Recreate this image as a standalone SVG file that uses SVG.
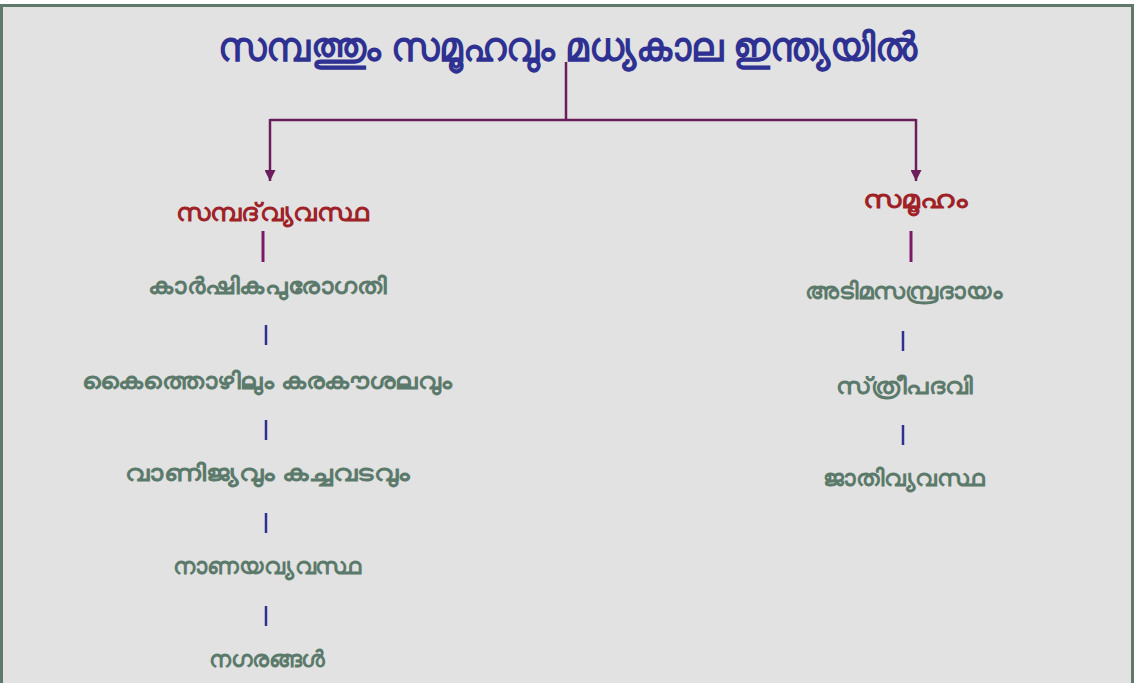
<svg xmlns="http://www.w3.org/2000/svg" width="1134" height="683" viewBox="0 0 1134 683">
<style>
text{font-family:"Noto Sans","DejaVu Sans",sans-serif;font-weight:bold;text-anchor:middle}
.title{fill:#2e3192;font-size:40px}
.head{fill:#9e2227;font-size:25px}
.item{fill:#5c7a6b;font-size:23px}
.conn{stroke:#6b1d5c;stroke-width:2.5;fill:none}
.bar{stroke:#2e3192;stroke-width:2.5}
.pbar{stroke:#7a1a66;stroke-width:3}
</style>
<defs>
<marker id="arr" viewBox="0 0 10 10" refX="10" refY="5" markerWidth="12" markerHeight="11" orient="auto" markerUnits="userSpaceOnUse">
<path d="M0,0 L10,5 L0,10 z" fill="#6b1d5c"/>
</marker>
</defs>
<rect x="1.5" y="5.5" width="1131" height="680" fill="#e1e2e1" stroke="#5f7a6a" stroke-width="3"/>
<g id="title"><text class="title" x="568" y="61" textLength="700" lengthAdjust="spacingAndGlyphs">സമ്പത്തും സമൂഹവും മധ്യകാല ഇന്ത്യയിൽ</text></g>
<g id="connectors">
<path class="conn" d="M566,62 V120 M270,120 H916"/>
<path class="conn" d="M270,119 V181" marker-end="url(#arr)"/>
<path class="conn" d="M916,119 V181" marker-end="url(#arr)"/>
<line class="pbar" x1="263" y1="231" x2="263" y2="262"/>
<line class="pbar" x1="911" y1="231" x2="911" y2="262"/>
<line class="bar" x1="266" y1="325" x2="266" y2="345"/>
<line class="bar" x1="266" y1="420" x2="266" y2="440"/>
<line class="bar" x1="266" y1="513" x2="266" y2="533"/>
<line class="bar" x1="266" y1="606" x2="266" y2="626"/>
<line class="bar" x1="903" y1="331" x2="903" y2="351"/>
<line class="bar" x1="903" y1="425" x2="903" y2="445"/>
</g>
<g id="n-sampad"><text class="head" x="272" y="221" textLength="192" lengthAdjust="spacingAndGlyphs">സമ്പദ്&#8204;വ്യവസ്ഥ</text></g>
<g id="n-karshika"><text class="item" x="267.5" y="294" textLength="239" lengthAdjust="spacingAndGlyphs">കാർഷികപുരോഗതി</text></g>
<g id="n-kaithozhil"><text class="item" x="267" y="389" textLength="370" lengthAdjust="spacingAndGlyphs">കൈത്തൊഴിലും കരകൗശലവും</text></g>
<g id="n-vanijyam"><text class="item" x="267.5" y="481" textLength="285" lengthAdjust="spacingAndGlyphs">വാണിജ്യവും കച്ചവടവും</text></g>
<g id="n-nanayam"><text class="item" x="267" y="574" textLength="188" lengthAdjust="spacingAndGlyphs">നാണയവ്യവസ്ഥ</text></g>
<g id="n-nagarangal"><text class="item" x="267" y="667" textLength="116" lengthAdjust="spacingAndGlyphs">നഗരങ്ങൾ</text></g>
<g id="n-samooham"><text class="head" x="915" y="208" textLength="104" lengthAdjust="spacingAndGlyphs">സമൂഹം</text></g>
<g id="n-adima"><text class="item" x="904" y="299" textLength="198" lengthAdjust="spacingAndGlyphs">അടിമസമ്പ്രദായം</text></g>
<g id="n-sthree"><text class="item" x="904.5" y="394" textLength="137" lengthAdjust="spacingAndGlyphs">സ്&#8204;ത്രീപദവി</text></g>
<g id="n-jathi"><text class="item" x="903.5" y="486" textLength="161" lengthAdjust="spacingAndGlyphs">ജാതിവ്യവസ്ഥ</text></g>
</svg>
